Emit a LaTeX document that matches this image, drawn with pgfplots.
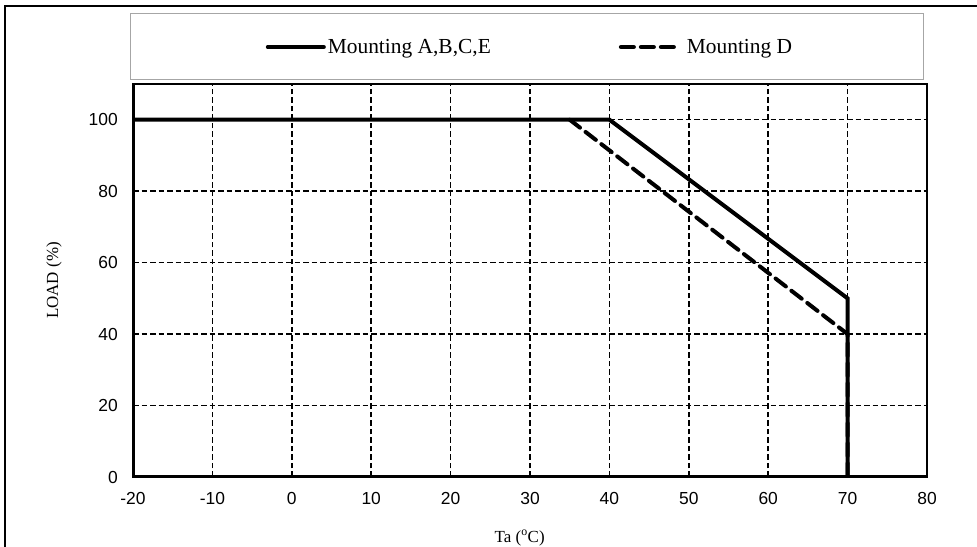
\documentclass[border=0pt]{standalone}
\usepackage{fontspec}
\setmainfont{Liberation Serif}
\newfontfamily\arial{Liberation Sans}
\usepackage{pgfplots}
\pgfplotsset{compat=1.18}
\begin{document}
\begin{tikzpicture}
\useasboundingbox (0bp,0bp) rectangle (977bp,547bp);
% outer frame (only left and top show)
\draw[line width=2bp] (5bp,0bp) -- (5bp,541bp) -- (977bp,541bp);
% legend box
\draw[gray!70, line width=1bp] (130bp,467bp) rectangle (923bp,533bp);
\begin{axis}[
    at={(133bp,70bp)}, anchor=south west,
    scale only axis,
    width=794bp, height=393bp,
    xmin=-20, xmax=80,
    ymin=0, ymax=110,
    xtick={-20,-10,...,80},
    xticklabels={-20,-10,0,10,20,30,40,50,60,70,80},
    ytick={0,20,...,100},
    yticklabels={0,20,40,60,80,100},
    major tick length=0pt,
    grid=major,
    major grid style={black, line width=1.5bp, dash pattern=on 5.5bp off 3bp},
    axis line style={line width=1.5bp},
    xticklabel style={font=\arial\fontsize{17.5}{17.5}\selectfont, anchor=center, yshift=-21bp},
    yticklabel style={font=\arial\fontsize{17.5}{17.5}\selectfont, anchor=east, inner sep=0pt, xshift=-15bp},
    xlabel={Ta (\textsuperscript{o}C)},
    xlabel style={at={(axis description cs:0.487,-0.155)}, anchor=center, font=\fontsize{17}{17}\selectfont},
    ylabel={LOAD (\%)},
    ylabel style={at={(axis description cs:-0.0995,0.5)}, anchor=center, font=\fontsize{17}{17}\selectfont},
    legend columns=2,
    legend image code/.code={\draw[#1] (0bp,0bp) -- (56bp,0bp);},
    legend style={at={(axis description cs:0.5,1)}, anchor=center, yshift=37bp,
        draw=none, fill=none, font=\fontsize{21.5}{24}\selectfont,
        nodes={inner sep=2bp},
        /tikz/every even column/.append style={column sep=126bp}},
  ]
  \addplot[black, line width=4bp, line cap=round] coordinates {(-20,100) (40,100) (70,50) (70,0)};
  \addlegendentry{Mounting A,B,C,E}
  \addplot[black, line width=4bp, line cap=round, dash pattern=on 13bp off 7bp] coordinates {(35,100) (70,40) (70,0)};
  \addlegendentry{\hspace{6bp}Mounting D}
  \draw[line width=3bp] (rel axis cs:0,1) -- (rel axis cs:0,0) -- (rel axis cs:1,0);
\end{axis}
\end{tikzpicture}
\end{document}
